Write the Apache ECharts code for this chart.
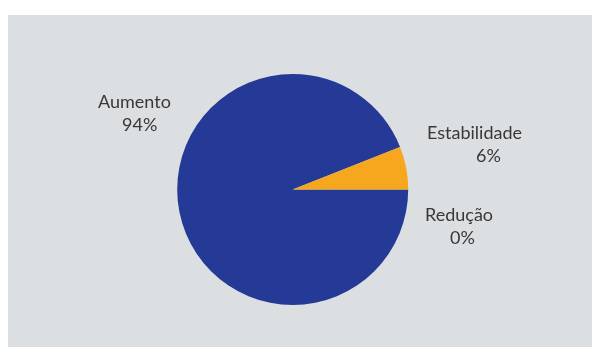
<!DOCTYPE html>
<html>
<head>
<meta charset="utf-8">
<script src="https://cdn.jsdelivr.net/npm/echarts@6/dist/echarts.min.js"></script>
<style>
  html, body { margin: 0; padding: 0; background: #ffffff; }
  #chart { width: 592px; height: 347px; }
</style>
</head>
<body>
<div id="chart"></div>
<script>
// Share of responses by outcome (percent)
const categories = ['Redução', 'Aumento', 'Estabilidade'];
const values = [0, 94, 6];
const colors = ['#f6a71d', '#253a96', '#f6a71d'];

// Where each label block sits (left, top) and how far its value line is indented
const labelSpots = [
  { x: 425, y: 203, indent: 25 },
  { x: 98,  y: 90,  indent: 24 },
  { x: 427, y: 121, indent: 49 }
];

const FONT = 'Lato, Roboto, "Noto Sans", sans-serif';

const chart = echarts.init(document.getElementById('chart'), null, { renderer: 'canvas' });

const data = categories.map((name, i) => ({
  name: name,
  value: values[i],
  itemStyle: { color: colors[i] },
  label: {
    rich: {
      n: { fontFamily: FONT, fontSize: 18, color: '#383838', lineHeight: 23.5 },
      v: { fontFamily: FONT, fontSize: 18, color: '#383838', lineHeight: 23.5,
           padding: [0, 0, 0, labelSpots[i].indent] }
    }
  }
}));

chart.setOption({
  animation: false,
  graphic: [{
    type: 'rect',
    z: -10,
    shape: { x: 8, y: 15, width: 584, height: 332 },
    style: { fill: '#dcdfe2' }
  }],
  series: [{
    type: 'pie',
    center: [292.7, 189.5],
    radius: 115.5,
    startAngle: 0,
    clockwise: true,
    avoidLabelOverlap: false,
    silent: true,
    itemStyle: { borderWidth: 0 },
    label: {
      show: true,
      position: 'outside',
      align: 'left',
      formatter: p => '{n|' + p.name + '}\n{v|' + p.value + '%}'
    },
    labelLine: { show: false },
    labelLayout: p => {
      const s = labelSpots[p.dataIndex];
      return { x: s.x, y: s.y, align: 'left', verticalAlign: 'top', hideOverlap: false };
    },
    data: data
  }]
});
</script>
</body>
</html>
